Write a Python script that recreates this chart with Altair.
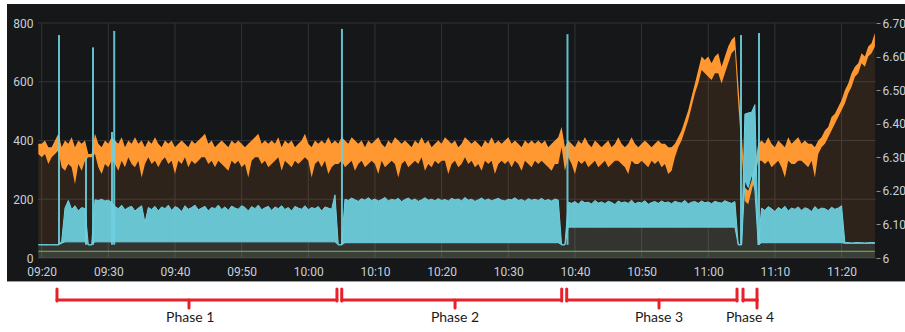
import altair as alt
import pandas as pd

# ---------------------------------------------------------------------------
# Samples every 30 s from 09:19:30 to 11:25:00
# ---------------------------------------------------------------------------
DAY = "2024-01-01"
FIRST_SAMPLE = "09:19:30"

# Orange series (right axis): upper / lower edge of the noisy trace
orange_hi = [
    6.34, 6.34, 6.35, 6.33, 6.33, 6.35, 6.37, 6.33, 6.35, 6.34,
    6.36, 6.33, 6.35, 6.34, 6.35, 6.31, 6.31, 6.37, 6.34, 6.33,
    6.35, 6.34, 6.36, 6.35, 6.34, 6.36, 6.33, 6.35, 6.34, 6.36,
    6.34, 6.35, 6.33, 6.35, 6.34, 6.36, 6.34, 6.33, 6.35, 6.34,
    6.35, 6.33, 6.34, 6.35, 6.34, 6.33, 6.35, 6.34, 6.35, 6.36,
    6.37, 6.34, 6.35, 6.33, 6.34, 6.35, 6.34, 6.33, 6.35, 6.34,
    6.35, 6.34, 6.33, 6.34, 6.35, 6.36, 6.37, 6.34, 6.35, 6.34,
    6.35, 6.34, 6.36, 6.33, 6.35, 6.34, 6.35, 6.33, 6.34, 6.35,
    6.37, 6.34, 6.33, 6.35, 6.34, 6.35, 6.34, 6.36, 6.34, 6.35,
    6.34, 6.36, 6.35, 6.34, 6.36, 6.35, 6.34, 6.35, 6.33, 6.35,
    6.34, 6.35, 6.36, 6.34, 6.33, 6.35, 6.34, 6.36, 6.35, 6.34,
    6.35, 6.34, 6.33, 6.35, 6.34, 6.36, 6.34, 6.35, 6.33, 6.34,
    6.35, 6.34, 6.36, 6.35, 6.34, 6.35, 6.33, 6.34, 6.36, 6.35,
    6.34, 6.35, 6.34, 6.33, 6.35, 6.34, 6.36, 6.34, 6.35, 6.34,
    6.35, 6.36, 6.34, 6.35, 6.34, 6.33, 6.35, 6.34, 6.35, 6.34,
    6.35, 6.34, 6.35, 6.33, 6.34, 6.35, 6.36, 6.39, 6.33, 6.35,
    6.34, 6.33, 6.35, 6.34, 6.36, 6.34, 6.33, 6.35, 6.34, 6.33,
    6.34, 6.35, 6.33, 6.34, 6.36, 6.34, 6.33, 6.34, 6.36, 6.34,
    6.33, 6.34, 6.35, 6.34, 6.33, 6.34, 6.35, 6.34, 6.34, 6.33,
    6.33, 6.34, 6.36, 6.38, 6.41, 6.44, 6.48, 6.52, 6.56, 6.60,
    6.59, 6.60, 6.58, 6.60, 6.61, 6.57, 6.60, 6.63, 6.65, 6.66,
    6.52, 6.38, 6.21, 6.20, 6.23, 6.28, 6.34, 6.35, 6.34, 6.36,
    6.34, 6.33, 6.35, 6.34, 6.33, 6.36, 6.34, 6.35, 6.36, 6.34,
    6.35, 6.34, 6.34, 6.33, 6.35, 6.36, 6.38, 6.39, 6.42, 6.43,
    6.45, 6.47, 6.50, 6.52, 6.55, 6.57, 6.58, 6.61, 6.60, 6.63,
    6.64, 6.67,
]
orange_lo = [
    6.31, 6.30, 6.31, 6.28, 6.30, 6.31, 6.32, 6.27, 6.26, 6.28,
    6.27, 6.22, 6.28, 6.26, 6.29, 6.30, 6.30, 6.31, 6.27, 6.25,
    6.28, 6.27, 6.29, 6.28, 6.26, 6.29, 6.27, 6.30, 6.28, 6.27,
    6.29, 6.24, 6.28, 6.30, 6.28, 6.29, 6.27, 6.29, 6.30, 6.28,
    6.29, 6.25, 6.29, 6.28, 6.30, 6.27, 6.29, 6.28, 6.29, 6.30,
    6.30, 6.28, 6.29, 6.27, 6.29, 6.28, 6.27, 6.26, 6.29, 6.28,
    6.29, 6.27, 6.28, 6.24, 6.29, 6.30, 6.30, 6.28, 6.29, 6.27,
    6.28, 6.29, 6.30, 6.26, 6.29, 6.28, 6.27, 6.29, 6.28, 6.29,
    6.30, 6.29, 6.24, 6.28, 6.29, 6.27, 6.29, 6.25, 6.27, 6.28,
    6.28, 6.29, 6.27, 6.28, 6.29, 6.26, 6.28, 6.29, 6.27, 6.28,
    6.29, 6.28, 6.25, 6.29, 6.27, 6.28, 6.29, 6.28, 6.24, 6.28,
    6.29, 6.27, 6.28, 6.29, 6.28, 6.30, 6.26, 6.28, 6.27, 6.29,
    6.28, 6.29, 6.29, 6.25, 6.28, 6.29, 6.27, 6.28, 6.30, 6.28,
    6.29, 6.27, 6.28, 6.26, 6.29, 6.28, 6.29, 6.25, 6.28, 6.29,
    6.28, 6.29, 6.27, 6.29, 6.28, 6.26, 6.29, 6.28, 6.27, 6.29,
    6.28, 6.29, 6.28, 6.27, 6.26, 6.28, 6.28, 6.33, 6.26, 6.30,
    6.28, 6.25, 6.29, 6.28, 6.29, 6.27, 6.28, 6.29, 6.27, 6.28,
    6.29, 6.27, 6.28, 6.29, 6.29, 6.28, 6.27, 6.25, 6.29, 6.28,
    6.28, 6.29, 6.28, 6.27, 6.29, 6.28, 6.29, 6.27, 6.28, 6.25,
    6.26, 6.30, 6.33, 6.35, 6.38, 6.41, 6.45, 6.49, 6.52, 6.56,
    6.55, 6.54, 6.53, 6.55, 6.55, 6.52, 6.55, 6.58, 6.61, 6.62,
    6.46, 6.32, 6.17, 6.16, 6.20, 6.24, 6.29, 6.29, 6.28, 6.29,
    6.27, 6.28, 6.29, 6.27, 6.24, 6.29, 6.28, 6.28, 6.29, 6.29,
    6.28, 6.27, 6.29, 6.24, 6.31, 6.33, 6.34, 6.36, 6.38, 6.40,
    6.42, 6.44, 6.46, 6.49, 6.51, 6.54, 6.55, 6.58, 6.57, 6.60,
    6.61, 6.63,
]

# Cyan series (left axis): upper / lower edge of the oscillating trace
cyan_hi = [
    45, 45, 45, 45, 45, 45, 45, 56, 170, 196,
    165, 178, 160, 172, 168, 45, 45, 198, 196, 200,
    194, 197, 190, 175, 168, 180, 164, 172, 176, 160,
    170, 178, 120, 172, 165, 176, 160, 174, 168, 180,
    162, 175, 170, 158, 178, 166, 172, 180, 164, 170,
    176, 160, 172, 168, 180, 165, 174, 162, 177, 170,
    166, 178, 172, 160, 175, 168, 180, 164, 171, 176,
    162, 174, 168, 178, 165, 172, 160, 176, 170, 166,
    178, 164, 172, 168, 175, 160, 174, 170, 166, 215,
    45, 45, 200, 196, 204, 198, 193, 202, 197, 205,
    196, 201, 194, 199, 206, 195, 200, 197, 203, 192,
    199, 204, 196, 201, 193, 198, 205, 197, 200, 195,
    202, 196, 199, 194, 203, 198, 201, 195, 206, 197,
    200, 193, 198, 204, 196, 201, 195, 199, 203, 197,
    194, 200, 198, 205, 196, 199, 193, 202, 197, 200,
    196, 203, 195, 199, 194, 201, 197, 45, 45, 190,
    186, 192, 183, 195, 188, 190, 184, 196, 187, 191,
    185, 193, 189, 182, 194, 188, 191, 186, 197, 184,
    190, 187, 195, 183, 189, 192, 186, 194, 188, 191,
    185, 193, 189, 187, 196, 184, 190, 192, 186, 194,
    188, 191, 185, 193, 189, 187, 195, 190, 186, 192,
    45, 45, 490, 494, 496, 522, 45, 170, 162, 175,
    168, 158, 172, 165, 176, 160, 170, 166, 174, 162,
    171, 167, 158, 175, 164, 170, 168, 161, 173, 166,
    170, 178, 52, 53, 51, 52, 53, 52, 51, 52,
    53, 52,
]
cyan_lo = [
    45, 45, 45, 45, 45, 45, 45, 50, 55, 55,
    55, 55, 55, 55, 55, 45, 45, 55, 55, 55,
    55, 55, 55, 55, 55, 55, 55, 55, 55, 55,
    55, 55, 55, 55, 55, 55, 55, 55, 55, 55,
    55, 55, 55, 55, 55, 55, 55, 55, 55, 55,
    55, 55, 55, 55, 55, 55, 55, 55, 55, 55,
    55, 55, 55, 55, 55, 55, 55, 55, 55, 55,
    55, 55, 55, 55, 55, 55, 55, 55, 55, 55,
    55, 55, 55, 55, 55, 55, 55, 55, 55, 55,
    45, 45, 52, 52, 52, 52, 52, 52, 52, 52,
    52, 52, 52, 52, 52, 52, 52, 52, 52, 52,
    52, 52, 52, 52, 52, 52, 52, 52, 52, 52,
    52, 52, 52, 52, 52, 52, 52, 52, 52, 52,
    52, 52, 52, 52, 52, 52, 52, 52, 52, 52,
    52, 52, 52, 52, 52, 52, 52, 52, 52, 52,
    52, 52, 52, 52, 52, 52, 52, 45, 45, 105,
    105, 105, 105, 105, 105, 105, 105, 105, 105, 105,
    105, 105, 105, 105, 105, 105, 105, 105, 105, 105,
    105, 105, 105, 105, 105, 105, 105, 105, 105, 105,
    105, 105, 105, 105, 105, 105, 105, 105, 105, 105,
    105, 105, 105, 105, 105, 105, 105, 105, 105, 105,
    45, 45, 265, 240, 285, 230, 45, 52, 52, 52,
    52, 52, 52, 52, 52, 52, 52, 52, 52, 52,
    52, 52, 52, 52, 52, 52, 52, 52, 52, 52,
    52, 52, 50, 50, 50, 50, 50, 50, 50, 50,
    50, 50,
]

# Single-sample cyan peaks
spike_times = ["09:22:36", "09:26:39", "09:27:42", "09:30:33", "09:30:53",
               "10:05:03", "10:38:53", "11:04:55", "11:07:37"]
spike_peaks = [759, 340, 717, 429, 773, 780, 762, 759, 766]
spike_floor = 45

# Green reference level (flat)
green_times = ["09:19:30", "11:25:00"]
green_vals = [23, 23]

# Axis ticks
x_ticks = ["09:20", "09:30", "09:40", "09:50", "10:00", "10:10", "10:20",
           "10:30", "10:40", "10:50", "11:00", "11:10", "11:20"]
left_ticks = [0, 200, 400, 600, 800]
right_ticks = [6.0, 6.1, 6.2, 6.3, 6.4, 6.5, 6.6, 6.7]

# Phase annotations under the time axis
phase_names = ["Phase 1", "Phase 2", "Phase 3", "Phase 4"]
phase_start = ["09:22:18", "10:05:01", "10:38:46", "11:05:13"]
phase_end = ["10:04:18", "10:38:01", "11:04:19", "11:07:19"]
phase_tick = ["09:42:06", "10:22:01", "10:52:37", "11:07:19"]
phase_label = ["09:42:17", "10:22:01", "10:52:37", "11:06:16"]

# ---------------------------------------------------------------------------
BG = "#161719"
ORANGE = "#FF9830"
CYAN = "#6ED0E0"
GREEN = "#7EB26D"
GRID = "#323336"
TEXT = "#c7d0d9"
RED = "#E8202A"


def stamp(hms):
    return f"{DAY}T{hms}"


def dt(h, m, s=0):
    return alt.DateTime(year=2024, month=1, date=1, hours=h, minutes=m, seconds=s)


times = pd.date_range(f"{DAY} {FIRST_SAMPLE}", periods=len(orange_hi), freq="30s")
main = pd.DataFrame({
    "t": times.strftime("%Y-%m-%dT%H:%M:%S"),
    "oh": orange_hi, "ol": orange_lo,
    "ch": cyan_hi, "cl": cyan_lo,
})
spikes = pd.DataFrame({"t": [stamp(s) for s in spike_times], "peak": spike_peaks})
green = pd.DataFrame({"t": [stamp(s) for s in green_times], "g": green_vals})
xgrid = pd.DataFrame({"t": [stamp(s + ":00") for s in x_ticks]})
ygrid = pd.DataFrame({"v": left_ticks})
phases = pd.DataFrame({
    "name": phase_names,
    "start": [stamp(s) for s in phase_start],
    "end": [stamp(s) for s in phase_end],
    "tick": [stamp(s) for s in phase_tick],
    "label": [stamp(s) for s in phase_label],
})
one = pd.DataFrame({"a": [0]})

xscale = alt.Scale(domain=[dt(9, 19, 27), dt(11, 25, 10)])
xaxis = alt.Axis(
    values=[dt(int(s[:2]), int(s[3:])) for s in x_ticks],
    format="%H:%M", labelColor=TEXT, labelFont="Roboto", labelFontSize=12,
    ticks=False, tickSize=0, domain=False, grid=False, labelPadding=8,
    labelFlush=False, title=None, zindex=1,
)
left_scale = alt.Scale(domain=[0, 800], nice=False)
right_scale = alt.Scale(domain=[6.0, 6.7], nice=False, zero=False)
left_axis = alt.Axis(
    values=left_ticks, orient="left", labelColor=TEXT, labelFont="Roboto",
    labelFontSize=12, ticks=False, tickSize=0, domain=False, grid=False,
    labelPadding=5, title=None, zindex=1,
)
right_axis = alt.Axis(
    values=right_ticks, orient="right", labelColor=TEXT, labelFont="Roboto",
    labelFontSize=12, labelExpr="datum.value == 6 ? '6' : format(datum.value, '.2f')",
    ticks=True, tickSize=4, tickColor="#8a8b8e", domain=False, grid=False,
    labelPadding=2, title=None, zindex=1,
)


def X(field):
    return alt.X(field, type="temporal", scale=xscale, axis=xaxis)


def YL(field, axis=None):
    return alt.Y(field, type="quantitative", scale=left_scale, axis=axis)


def YR(field, axis=None):
    return alt.Y(field, type="quantitative", scale=right_scale, axis=axis)


base = alt.Chart(main)

# dark panel behind plot and axes
panel = alt.Chart(one).mark_rect(color=BG).encode(
    x=alt.value(-31), x2=alt.value(867), y=alt.value(-19), y2=alt.value(259)
)
panel_edge = alt.Chart(one).mark_rule(color="#9a9a9a", strokeWidth=1).encode(
    x=alt.value(-31), x2=alt.value(867), y=alt.value(258.5)
)

hgrid = alt.Chart(ygrid).mark_rule(color=GRID, strokeWidth=1).encode(
    y=YL("v", left_axis), x=alt.value(0), x2=alt.value(838)
)
vgrid = alt.Chart(xgrid).mark_rule(color=GRID, strokeWidth=1).encode(
    x=X("t"), y=alt.value(0), y2=alt.value(235)
)

orange_fill = base.mark_area(color=ORANGE, opacity=0.1).encode(
    x=X("t"), y=YR("oh", right_axis), y2=alt.datum(6.0)
)
cyan_fill = base.mark_area(color=CYAN, opacity=0.1).encode(
    x=X("t"), y=YL("ch"), y2=alt.datum(0)
)
green_fill = alt.Chart(green).mark_area(color=GREEN, opacity=0.1).encode(
    x=X("t"), y=YL("g"), y2=alt.datum(0)
)

orange_band = base.mark_area(color=ORANGE, opacity=1).encode(
    x=X("t"), y=YR("oh"), y2="ol"
)
cyan_band = base.mark_area(color=CYAN, opacity=0.92).encode(
    x=X("t"), y=YL("ch"), y2="cl"
)
cyan_top = base.mark_line(color=CYAN, strokeWidth=1).encode(x=X("t"), y=YL("ch"))
cyan_bottom = base.mark_line(color=CYAN, strokeWidth=1).encode(x=X("t"), y=YL("cl"))
green_line = alt.Chart(green).mark_line(color=GREEN, strokeWidth=1).encode(
    x=X("t"), y=YL("g")
)
spike_rules = alt.Chart(spikes).mark_rule(color=CYAN, strokeWidth=2, opacity=0.9).encode(
    x=X("t"), y=YL("peak"), y2=alt.datum(spike_floor)
)

# red brackets marking the phases
pb = alt.Chart(phases)
br_h = pb.mark_rule(color=RED, strokeWidth=3, strokeCap="round").encode(
    x=X("start"), x2="end", y=alt.value(277)
)
br_l = pb.mark_rule(color=RED, strokeWidth=3, strokeCap="round").encode(
    x=X("start"), y=alt.value(266), y2=alt.value(278)
)
br_r = pb.mark_rule(color=RED, strokeWidth=3, strokeCap="round").encode(
    x=X("end"), y=alt.value(266), y2=alt.value(278)
)
br_c = pb.mark_rule(color=RED, strokeWidth=3, strokeCap="round").encode(
    x=X("tick"), y=alt.value(277), y2=alt.value(285)
)
br_t = pb.mark_text(font="Lato", fontSize=14, color="#1a1a1a", baseline="middle",
                    align="center").encode(
    x=X("label"), y=alt.value(295), text="name:N"
)

chart = alt.layer(
    panel, panel_edge, hgrid, vgrid,
    orange_fill, cyan_fill, green_fill,
    orange_band, cyan_band, cyan_top, cyan_bottom, green_line, spike_rules,
    br_h, br_l, br_r, br_c, br_t,
).resolve_scale(y="independent").properties(
    width=838, height=235,
    padding={"left": 38, "top": 23, "right": 29, "bottom": 74},
    autosize=alt.AutoSizeParams(type="none"),
    background="white",
).configure_view(stroke=None)

chart.save("out.html", embed_options={"renderer": "svg", "actions": False})
